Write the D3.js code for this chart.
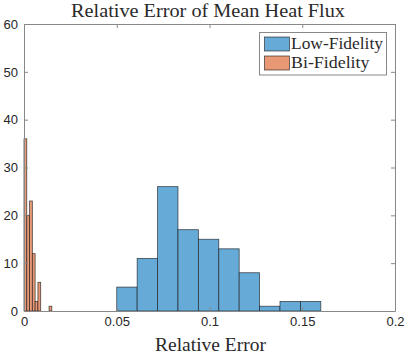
<!DOCTYPE html>
<html><head><meta charset="utf-8">
<script src="https://cdn.jsdelivr.net/npm/d3@7"></script>
<style>body{margin:0;background:#fff}</style>
</head><body>
<script>
// Data
const lowEdgeStart = 0.05, lowBinWidth = 0.011;
const lowCounts = [5, 11, 26, 17, 15, 13, 8, 1, 2, 2];
const biEdgeStart = 0, biBinWidth = 0.0015;
const biCounts = [36, 20, 23, 12, 2, 6, 0, 0, 0, 1];
const xTicks = [0, 0.05, 0.1, 0.15, 0.2];
const xTickLabels = ["0", "0.05", "0.1", "0.15", "0.2"];
const yTicks = [0, 10, 20, 30, 40, 50, 60];
const seriesNames = ["Low-Fidelity", "Bi-Fidelity"];
const titleText = "Relative Error of Mean Heat Flux";
const xLabelText = "Relative Error";

const W = 407, H = 355;
const m = {l: 24, r: 12, t: 24, b: 44};
const svg = d3.select("body").append("svg").attr("width", W).attr("height", H);
const x = d3.scaleLinear().domain([0, 0.2]).range([m.l, W - m.r]);
const y = d3.scaleLinear().domain([0, 60]).range([H - m.b, m.t]);

const lowColor = "rgb(102,170,215)", biColor = "rgb(232,152,117)";
const sans = "'Liberation Sans', Arial, sans-serif";
const serif = "'Liberation Serif', 'DejaVu Serif', serif";

function bars(counts, start, w, color) {
  const data = counts.map((c, i) => ({x0: start + i * w, x1: start + (i + 1) * w, c})).filter(d => d.c > 0);
  svg.append("g").selectAll("rect").data(data).join("rect")
    .attr("x", d => x(d.x0)).attr("y", d => y(d.c))
    .attr("width", d => x(d.x1) - x(d.x0)).attr("height", d => y(0) - y(d.c))
    .attr("fill", color).attr("stroke", "#1a1a1a").attr("stroke-opacity", 0.75).attr("stroke-width", 0.8);
}
bars(lowCounts, lowEdgeStart, lowBinWidth, lowColor);
bars(biCounts, biEdgeStart, biBinWidth, biColor);

const axColor = "#888";
const tl = 4;
// Axes
const gx = svg.append("g").attr("transform", `translate(0,${y(0)})`)
  .call(d3.axisBottom(x).tickValues(xTicks).tickFormat((d, i) => xTickLabels[i]).tickSizeInner(-tl).tickSizeOuter(0).tickPadding(6));
const gxt = svg.append("g").attr("transform", `translate(0,${y(60)})`)
  .call(d3.axisTop(x).tickValues(xTicks).tickFormat("").tickSizeInner(-tl).tickSizeOuter(0));
const gy = svg.append("g").attr("transform", `translate(${x(0)},0)`)
  .call(d3.axisLeft(y).tickValues(yTicks).tickSizeInner(-tl).tickSizeOuter(0).tickPadding(6));
const gyr = svg.append("g").attr("transform", `translate(${x(0.2)},0)`)
  .call(d3.axisRight(y).tickValues(yTicks).tickFormat("").tickSizeInner(-tl).tickSizeOuter(0));
[gx, gxt, gy, gyr].forEach(g => {
  g.select(".domain").attr("stroke", axColor);
  g.selectAll(".tick line").attr("stroke", axColor);
  g.selectAll("text").attr("fill", "#262626").attr("font-family", sans).attr("font-size", 13);
});

// Title, label
svg.append("text").attr("x", 208).attr("y", 16.5).attr("text-anchor", "middle")
  .attr("font-family", serif).attr("font-size", 18).attr("fill", "#2a2a2a")
  .attr("textLength", 274).attr("lengthAdjust", "spacingAndGlyphs").text(titleText);
svg.append("text").attr("x", 210.5).attr("y", 351).attr("text-anchor", "middle")
  .attr("font-family", serif).attr("font-size", 18).attr("fill", "#2a2a2a")
  .attr("textLength", 111).attr("lengthAdjust", "spacingAndGlyphs").text(xLabelText);

// Legend
const lg = svg.append("g");
lg.append("rect").attr("x", 259.5).attr("y", 32.5).attr("width", 127).attr("height", 42.5)
  .attr("fill", "#fff").attr("stroke", axColor);
const colors = [lowColor, biColor];
const legLens = [92, 78.5];
seriesNames.forEach((n, i) => {
  lg.append("rect").attr("x", 264.5).attr("y", 37 + i * 19).attr("width", 25).attr("height", 14)
    .attr("fill", colors[i]).attr("stroke", "#1a1a1a").attr("stroke-opacity", 0.75).attr("stroke-width", 0.8);
  lg.append("text").attr("x", 291).attr("y", 49 + i * 19).attr("font-family", serif).attr("font-size", 16)
    .attr("fill", "#2a2a2a").attr("textLength", legLens[i]).attr("lengthAdjust", "spacingAndGlyphs").text(n);
});
</script>
</body></html>
